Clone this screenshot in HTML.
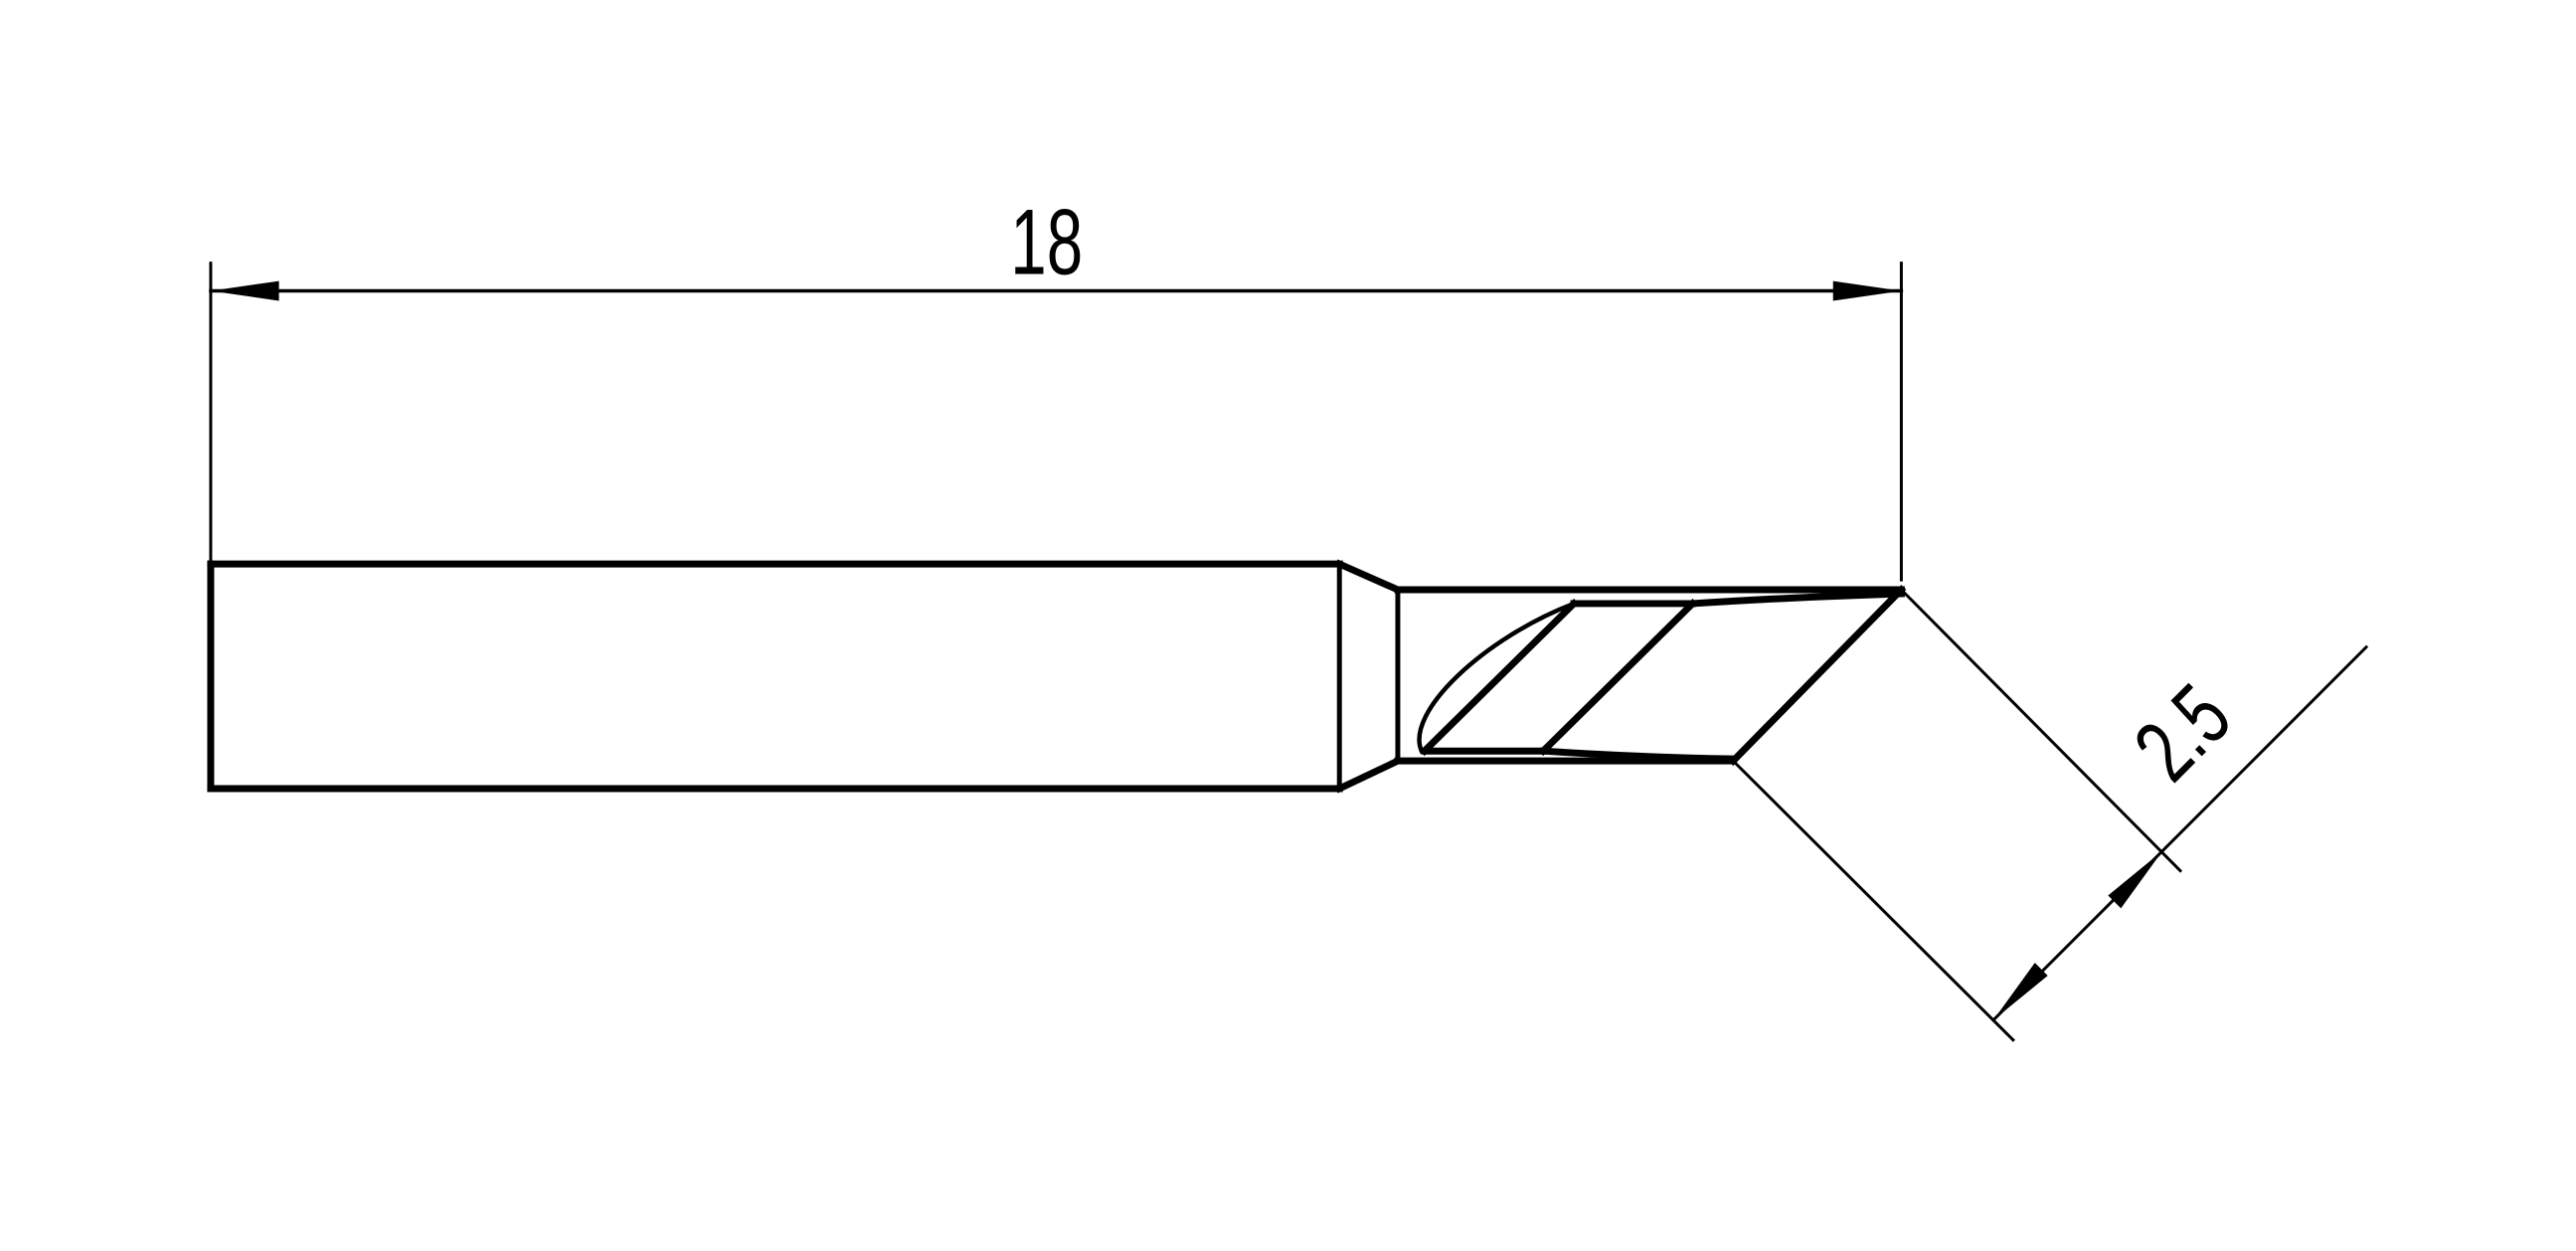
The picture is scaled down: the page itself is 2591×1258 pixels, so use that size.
<!DOCTYPE html>
<html><head><meta charset="utf-8"><style>
html,body{margin:0;padding:0;background:#fff;}
svg{display:block;}
text{font-family:"Liberation Sans",sans-serif;}
</style></head><body>
<svg width="2591" height="1258" viewBox="0 0 2591 1258" xmlns="http://www.w3.org/2000/svg">
<g transform="scale(0.995)">
<g stroke="#000" fill="none" stroke-linecap="square">
 <line x1="213" y1="266" x2="213" y2="570" stroke-width="3"/>
 <line x1="1922" y1="266" x2="1922" y2="586" stroke-width="3"/>
 <line x1="213" y1="294" x2="1922" y2="294" stroke-width="3.5"/>
 <g stroke-width="7">
  <line x1="213" y1="570" x2="1354" y2="570"/>
  <line x1="213" y1="797" x2="1354" y2="797"/>
  <line x1="213" y1="570" x2="213" y2="797"/>
  <line x1="1354" y1="570" x2="1413" y2="596"/>
  <line x1="1354" y1="797" x2="1413" y2="769"/>
  <line x1="1413" y1="596" x2="1922" y2="596"/>
  <line x1="1413" y1="769" x2="1752" y2="769"/>
  <line x1="1922" y1="596" x2="1752" y2="769"/>
  <line x1="1591" y1="610" x2="1711" y2="610"/>
  <line x1="1440" y1="759" x2="1560" y2="759"/>
  <line x1="1591" y1="610" x2="1440" y2="759"/>
  <line x1="1711" y1="610" x2="1560" y2="759"/>
  <path d="M1711 610 Q1800 604 1922 600"/>
  <path d="M1560 759 Q1650 765 1752 767"/>
 </g>
 <line x1="1354" y1="570" x2="1354" y2="797" stroke-width="5"/>
 <line x1="1413" y1="596" x2="1413" y2="769" stroke-width="5"/>
 <path d="M1591 610 C1500 645 1420 720 1437 759" stroke-width="4.5"/>
 <line x1="1922" y1="596" x2="2204" y2="880" stroke-width="3"/>
 <line x1="1752" y1="769" x2="2035" y2="1051" stroke-width="3"/>
 <line x1="2392" y1="654" x2="2015" y2="1031" stroke-width="3"/>
</g>
<g fill="#000">
 <polygon points="213,294 282,284 282,304"/>
 <polygon points="1922,294 1853,284 1853,304"/>
 <polygon points="2186,860 2144,918 2131,905"/>
 <polygon points="2015,1031 2057,973 2070,986"/>
</g>
<text x="0" y="0" font-size="94" text-anchor="middle" transform="translate(1058,277) scale(0.7,1)">18</text>
<text x="0" y="0" font-size="90" text-anchor="middle" transform="translate(2228,762) rotate(-45) scale(0.72,1)">2.5</text>
</g>
</svg>
</body></html>
